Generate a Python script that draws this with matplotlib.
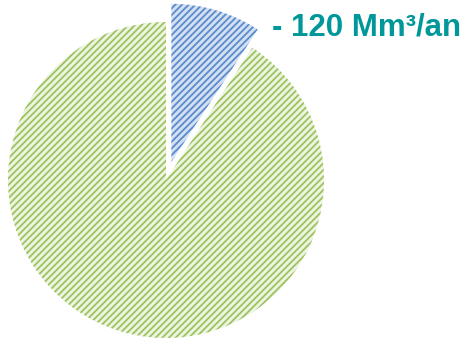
import matplotlib.pyplot as plt

labels = ['Réduction', 'Reste']
values = [9.2, 90.8]
fill_colors = ['#d3e0f3', '#edf4e1']
hatch_colors = ['#5b8bcb', '#9dc35e']
explode = [0.12, 0]
annotation = '- 120 Mm³/an'

plt.rcParams['hatch.linewidth'] = 1.3

fig = plt.figure(figsize=(4.67, 3.39), dpi=100)
ax = fig.add_axes([0, 0, 1, 1])

R = 158
cx, cy = 166, 180
wedges, _ = ax.pie(values, explode=explode, startangle=90, counterclock=False,
                   colors=fill_colors, radius=1, center=(0, 0))
for w, hc in zip(wedges, hatch_colors):
    w.set_hatch('/////')
    w.set_edgecolor(hc)
    w.set_linewidth(0)

ax.set_xlim(-cx / R, (467 - cx) / R)
ax.set_ylim(-(339 - cy) / R, cy / R)
ax.set_aspect('auto')
ax.axis('off')

fig.text(272 / 467, 1 - 35 / 339, annotation, color='#00979a', fontsize=22.5,
         fontweight='bold', family='Liberation Sans', ha='left', va='baseline')

fig.savefig('out.png', dpi=100)
